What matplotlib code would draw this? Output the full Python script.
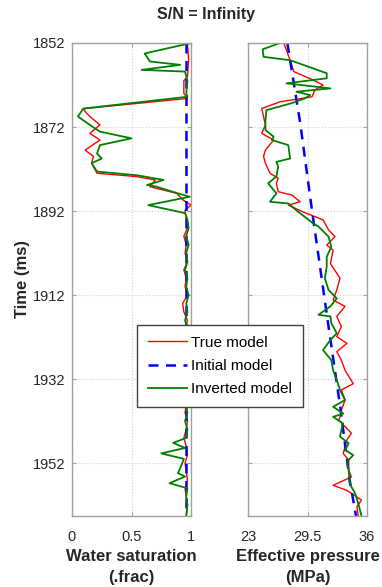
import matplotlib
matplotlib.use("Agg")
import matplotlib.pyplot as plt

# water saturation (left panel)
t_sw_true = [1852, 1856, 1860, 1861, 1864, 1865.2, 1867.6, 1868, 1869.5, 1871.5, 1873.5, 1875.1,
             1877.5, 1879, 1880.6, 1883, 1883.8, 1884.6, 1886.2, 1886.6, 1887.8, 1889.4, 1890.6,
             1891.8, 1894, 1896, 1898, 1900, 1902, 1904, 1906, 1908, 1910, 1912, 1914, 1916, 1918,
             1920, 1922, 1924, 1926, 1928, 1930, 1932, 1934, 1936, 1938, 1940, 1942, 1944, 1946,
             1948, 1950, 1952, 1954, 1956, 1958, 1960, 1962, 1964.6]
sw_true = [0.97, 0.98, 0.97, 0.94, 0.94, 0.97, 0.11, 0.10, 0.15, 0.235, 0.15, 0.235,
           0.11, 0.18, 0.165, 0.21, 0.54, 0.70, 0.655, 0.71, 0.88, 0.935, 1.0,
           0.95, 0.96, 0.97, 0.94, 0.96, 0.95, 0.97, 0.94, 0.96, 0.95, 0.97, 0.93, 0.94, 0.97,
           0.95, 0.96, 0.94, 0.96, 0.97, 0.95, 0.96, 0.94, 0.97, 0.96, 0.95, 0.97, 0.96, 0.94,
           0.96, 0.97, 0.95, 0.96, 0.97, 0.95, 0.96, 0.97, 0.96]

t_sw_inv = [1852, 1854.5, 1856.4, 1857.2, 1858.4, 1858.8, 1861, 1864, 1864.8, 1867.6, 1869.5,
            1871.5, 1873.1, 1874.7, 1876.3, 1878.3, 1879.5, 1880.6, 1882.6, 1883.5, 1884.6,
            1885.8, 1886.2, 1887.8, 1888.6, 1890.6, 1892.5, 1894, 1896, 1898, 1900, 1902, 1904,
            1906, 1908, 1910, 1912, 1914, 1916, 1918, 1920, 1922, 1924, 1926, 1928, 1930, 1932,
            1934, 1936, 1938, 1940, 1942, 1944, 1946, 1947.2, 1948.4, 1949.7, 1951, 1952.5,
            1954.4, 1955.2, 1956.8, 1958, 1960, 1962, 1964.6]
sw_inv = [1.0, 0.61, 0.655, 0.91, 0.585, 0.95, 0.97, 0.96, 0.97, 0.095, 0.05,
          0.15, 0.235, 0.50, 0.235, 0.21, 0.25, 0.165, 0.21, 0.55, 0.77,
          0.63, 0.71, 0.89, 0.99, 0.64, 0.95, 0.97, 0.98, 0.96, 0.98, 0.96, 0.97,
          0.95, 0.97, 0.96, 0.98, 0.96, 0.97, 0.95, 0.97, 0.96, 0.98, 0.96, 0.97, 0.96, 0.98,
          0.96, 0.97, 0.96, 0.97, 0.95, 0.97, 0.96, 0.85, 0.95, 0.75, 0.94, 0.92,
          0.89, 0.95, 0.82, 0.97, 0.96, 0.97, 0.96]

t_sw_init = [1852, 1964.6]
sw_init = [0.96, 0.96]

# effective pressure (right panel)
t_pe_true = [1852, 1853.7, 1856.1, 1858.8, 1860.8, 1862, 1863.2, 1864.8, 1866, 1867.6, 1869.5,
             1871.5, 1873.5, 1875.1, 1877.5, 1879, 1880.6, 1883, 1884.2, 1885.4, 1887.4, 1888.2,
             1889.8, 1890.6, 1892.2, 1894.1, 1896.5, 1898.1, 1900.1, 1901.3, 1904.5, 1908,
             1910.8, 1913.2, 1914.7, 1917.1, 1919.5, 1921.9, 1923.5, 1925.5, 1927.5, 1929.9,
             1933.1, 1934.6, 1937, 1939.4, 1940.2, 1941.8, 1943.3, 1944.9, 1946.5, 1949.7,
             1951.3, 1953.7, 1955.3, 1957.3, 1958.5, 1960.8, 1962.4, 1964.6]
pe_true = [26.9, 27.2, 27.6, 28.0, 30.1, 31.2, 30.3, 30.0, 26.5, 24.5, 24.7,
           24.9, 24.5, 25.8, 24.9, 24.7, 24.9, 25.4, 26.3, 26.1, 26.3, 27.8,
           28.7, 27.4, 29.0, 31.2, 31.8, 32.5, 31.6, 32.3, 32.0, 33.05,
           32.7, 32.3, 33.6, 32.7, 33.2, 32.7, 33.8, 32.7, 33.2, 33.6,
           34.5, 33.2, 33.6, 33.2, 33.2, 32.9, 33.6, 34.3, 33.8, 33.4,
           34.0, 34.0, 34.3, 32.3, 33.8, 35.4, 34.9, 35.05]

t_pe_inv = [1852, 1853.5, 1855.3, 1856.1, 1859.2, 1860.4, 1861.6, 1862.8, 1863.6, 1864.4,
            1865.2, 1866.3, 1868, 1870.7, 1872.7, 1874.3, 1875.1, 1876.3, 1879.5, 1880.3,
            1881.4, 1883.8, 1885.4, 1887.8, 1889.8, 1890.2, 1892.2, 1894.9, 1895.7, 1898.1,
            1900.5, 1902.9, 1905.2, 1908, 1910.8, 1912.8, 1914.7, 1916.7, 1917.1, 1918.7,
            1921.1, 1922.7, 1925.1, 1927.5, 1929.9, 1932.3, 1934.6, 1937, 1938.6, 1940.2,
            1941, 1942.6, 1944.1, 1945.7, 1947.3, 1948.9, 1950.1, 1951.7, 1953.7, 1956.9,
            1959.2, 1961.6, 1964.6]
pe_inv = [26.5, 24.6, 24.7, 27.6, 31.6, 31.6, 27.2, 32.0, 28.3, 29.8,
          29.2, 27.8, 25.0, 24.9, 24.9, 25.8, 25.6, 27.4, 27.6, 26.1,
          26.3, 26.1, 25.2, 26.1, 25.4, 27.4, 28.5, 30.1, 30.7, 31.8,
          32.1, 31.6, 31.6, 31.4, 31.8, 32.7, 32.0, 30.7, 32.0, 32.1,
          32.7, 32.0, 31.2, 32.1, 32.3, 32.7, 33.05, 33.6, 32.3, 33.4,
          32.3, 33.4, 33.2, 33.05, 34.0, 33.6, 34.5, 33.8, 34.0, 34.1,
          34.7, 35.05, 35.4]

t_pe_init = [1852, 1871, 1892, 1918, 1939, 1956, 1964.6]
pe_init = [27.3, 28.7, 30.0, 31.7, 33.1, 34.1, 34.8]

y_ticks = [1852, 1872, 1892, 1912, 1932, 1952]
sw_ticks = [0, 0.5, 1]
sw_ticklabels = ['0', '0.5', '1']
pe_ticks = [23, 29.5, 36]
pe_ticklabels = ['23', '29.5', '36']

RED = '#ff0000'
BLUE = '#0000ff'
GREEN = '#008000'
SPINE = '#a0a0a0'
TEXT = '#262626'

plt.rcParams['font.family'] = ['Liberation Sans', 'DejaVu Sans']

fig = plt.figure(figsize=(3.82, 5.87), dpi=100)
W, H = 382.0, 587.0
ax1 = fig.add_axes([72 / W, 1 - 516 / H, 119 / W, 473 / H])
ax2 = fig.add_axes([248 / W, 1 - 516 / H, 119 / W, 473 / H])


def style_axis(ax, ticks, ticklabels, xlim):
    ax.set_ylim(1964.6, 1852)
    ax.set_xlim(*xlim)
    ax.set_yticks(y_ticks)
    ax.set_xticks(ticks)
    ax.set_xticklabels(ticklabels)
    ax.grid(True, linestyle=':', color='#d0d0d0', linewidth=0.8)
    for s in ax.spines.values():
        s.set_color(SPINE)
        s.set_linewidth(1.0)
    ax.tick_params(direction='in', length=3, color=SPINE, labelcolor=TEXT,
                   labelsize=10.5, top=True, right=True)
    ax.tick_params(axis='y', pad=5)
    ax.tick_params(axis='x', pad=10)


ax1.plot(sw_true, t_sw_true, color=RED, lw=1.0, label='True model')
ax1.plot(sw_init, t_sw_init, color=BLUE, lw=1.8, ls=(0, (4, 3)), label='Initial model')
ax1.plot(sw_inv, t_sw_inv, color=GREEN, lw=1.3, label='Inverted model')
style_axis(ax1, sw_ticks, sw_ticklabels, (0, 1))
ax1.set_ylabel('Time (ms)', fontsize=12, fontweight='bold', color=TEXT, labelpad=2)
ax1.set_xlabel('Water saturation\n(.frac)', fontsize=12, fontweight='bold', color=TEXT,
               labelpad=4, linespacing=1.45)

ax2.plot(pe_true, t_pe_true, color=RED, lw=1.0)
ax2.plot(pe_init, t_pe_init, color=BLUE, lw=1.8, ls=(0, (4, 3)))
ax2.plot(pe_inv, t_pe_inv, color=GREEN, lw=1.3)
style_axis(ax2, pe_ticks, pe_ticklabels, (23, 36))
ax2.set_yticklabels([])
ax2.set_xlabel('Effective pressure\n(MPa)', fontsize=12, fontweight='bold', color=TEXT,
               labelpad=4, linespacing=1.45)

fig.legend(loc='upper left', bbox_to_anchor=(137 / W, 1 - 325 / H), fontsize=11,
           frameon=True, fancybox=False, framealpha=1, edgecolor='#404040',
           handlelength=2.55, labelspacing=0.6, borderpad=0.7, handletextpad=0.3,
           borderaxespad=0)

fig.text(206 / W, 1 - 14 / H, 'S/N = Infinity', ha='center', va='center',
         fontsize=11.5, fontweight='bold', color=TEXT)

fig.savefig('out.png', dpi=100)
